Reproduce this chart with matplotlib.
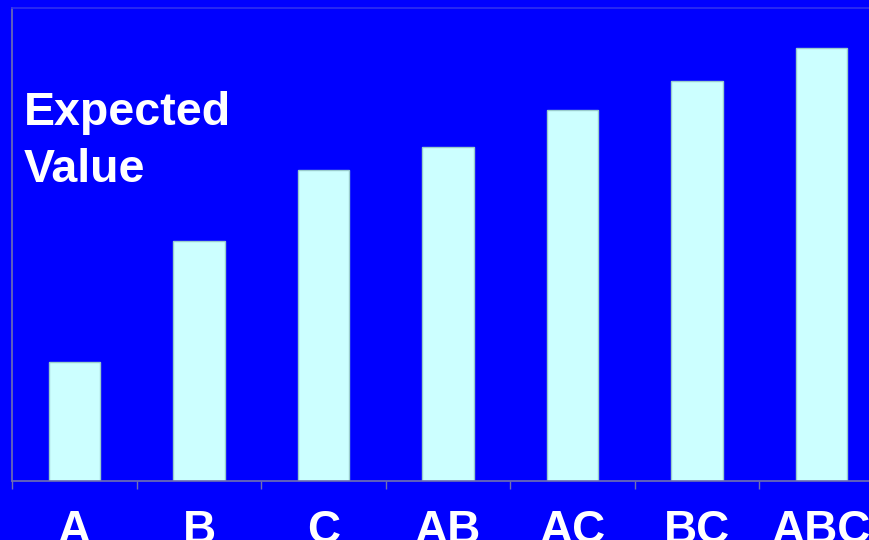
import matplotlib
matplotlib.use("Agg")
import matplotlib.pyplot as plt

categories = ["A", "B", "C", "AB", "AC", "BC", "ABC"]
values = [25.2, 50.7, 65.8, 70.6, 78.4, 84.6, 91.5]

W, H = 869, 540
fig = plt.figure(figsize=(W / 100, H / 100), dpi=100, facecolor="#0000FF")
ax = fig.add_axes([12.25 / W, 59 / H, 871.5 / W, 473 / H])
ax.set_facecolor("#0000FF")

x = list(range(len(categories)))
ax.bar(x, values, width=0.41, color="#CCFFFF", edgecolor="#99CCCC", linewidth=1)
ax.set_xlim(-0.5, len(categories) - 0.5)
ax.set_ylim(0, 100)

ax.set_xticks(x)
ax.set_xticklabels(categories, fontfamily="Liberation Sans", fontweight="bold",
                   fontsize=33, color="white")
ax.tick_params(axis="x", length=0, pad=20)
ax.set_xticks([i - 0.5 for i in range(len(categories) + 1)], minor=True)
ax.tick_params(axis="x", which="minor", length=6, color="#7070B0", width=1)
ax.set_yticks([])

for s in ["left", "bottom"]:
    ax.spines[s].set_color("#7070B0")
    ax.spines[s].set_linewidth(1.2)
ax.spines["top"].set_color("#3030F0")
ax.spines["top"].set_linewidth(1.2)
ax.spines["right"].set_visible(False)

ax.text(24 / W, 1 - 182 / H, "Expected\nValue", transform=fig.transFigure,
        fontfamily="Liberation Sans", fontweight="bold", fontsize=33.5,
        color="white", ha="left", va="baseline", linespacing=1.37)

fig.savefig("out.png", dpi=100, facecolor=fig.get_facecolor())
